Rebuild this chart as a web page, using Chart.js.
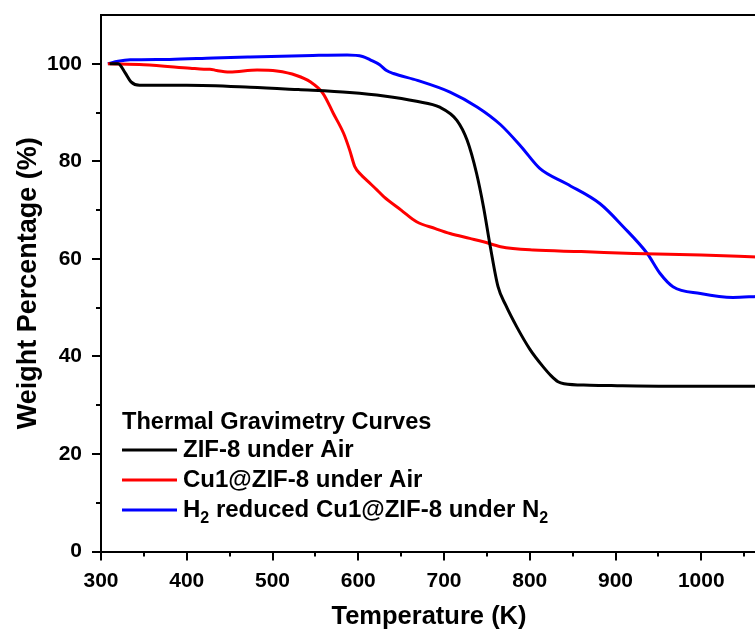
<!DOCTYPE html>
<html><head><meta charset="utf-8">
<script src="https://cdn.jsdelivr.net/npm/chart.js@4/dist/chart.umd.min.js"></script>
<style>html,body{margin:0;padding:0;background:#fff;overflow:hidden}#wrap{position:absolute;left:0;top:0;width:760px;height:633px}</style>
</head><body><div id="wrap"><canvas id="c" width="760" height="633"></canvas></div>
<script>
// ---- data ----
const zifTemp = [310,320,328,335,345,400,474,530,590,630,668,695,715,727,738,746,754,763,772,785,800,815,825,833,840,870,902,960,1020,1065];
const zifWeight = [100,100,98.2,96.3,95.6,95.6,95.2,94.7,94.1,93.4,92.3,91.1,88.4,84.3,77.5,70.7,62.5,54.3,50.5,46,41.5,38,36,34.8,34.4,34.1,34.0,33.9,33.9,33.9];
const cuTemp = [308,350,404,420,427,435,450,482,505,528,544,559,571,583,590,596,603,610,622,630,650,668,690,707,730,746,766,804,860,921,1000,1065];
const cuWeight = [100,99.8,99.1,98.9,98.9,98.6,98.3,98.7,98.5,97.6,96.3,93.9,89.8,85.7,82.3,78.9,77.3,76.1,74.1,72.7,70,67.6,66.2,65.2,64.2,63.5,62.5,61.8,61.5,61.1,60.8,60.4];
const h2Temp = [308,320,334,380,431,474,547,587,605,614,625,633,641,669,707,739,766,790,812,843,882,909,937,952,967,999,1037,1065];
const h2Weight = [100,100.5,100.8,100.9,101.2,101.4,101.7,101.8,101.5,100.8,99.8,98.6,98.0,96.6,94.2,91.1,87.5,83,78.5,75.4,71.3,66.6,61.1,57.0,54.3,52.9,52.1,52.3];
const xMajorTicks = [300,400,500,600,700,800,900,1000];
const xMinorTicks = [350,450,550,650,750,850,950,1050];
const yMajorTicks = [0,20,40,60,80,100];
const yMinorTicks = [10,30,50,70,90];
const seriesLabels = ['ZIF-8 under Air','Cu1@ZIF-8 under Air','H\u2082 reduced Cu1@ZIF-8 under N\u2082'];
const legendTitle = 'Thermal Gravimetry Curves';
// label pieces for drawing subscripts: [text, isSub]
const legendPieces = [
  [['ZIF-8 under Air',false]],
  [['Cu1@ZIF-8 under Air',false]],
  [['H',false],['2',true],[' reduced Cu1@ZIF-8 under N',false],['2',true]]
];
const colors = ['#000000','#ff0000','#0000ff'];

const FONT = '"Liberation Sans", Arial, Helvetica, sans-serif';
const pts = (xs, ys) => xs.map((x,i)=>({x, y: ys[i]}));

const frameTicks = {
  id:'frameTicks',
  afterDraw(chart){
    const {ctx, chartArea:a, scales:{x,y}} = chart;
    ctx.save();
    ctx.strokeStyle='#000'; ctx.lineWidth=2;
    ctx.beginPath();
    ctx.moveTo(a.left-1,a.top); ctx.lineTo(a.right,a.top); ctx.lineTo(a.right,a.bottom);
    ctx.stroke();
    ctx.lineWidth=2;
    ctx.beginPath();
    xMajorTicks.forEach(v=>{const p=Math.round(x.getPixelForValue(v)); ctx.moveTo(p,a.bottom); ctx.lineTo(p,a.bottom+9);});
    xMinorTicks.forEach(v=>{const p=Math.round(x.getPixelForValue(v)); ctx.moveTo(p,a.bottom); ctx.lineTo(p,a.bottom+5);});
    yMajorTicks.forEach(v=>{const p=Math.round(y.getPixelForValue(v)); ctx.moveTo(a.left,p); ctx.lineTo(a.left-9,p);});
    yMinorTicks.forEach(v=>{const p=Math.round(y.getPixelForValue(v)); ctx.moveTo(a.left,p); ctx.lineTo(a.left-5,p);});
    ctx.stroke();
    // legend
    ctx.fillStyle='#000';
    ctx.textBaseline='middle';
    ctx.font='bold 23.6px '+FONT;
    ctx.fillText(legendTitle, 122, 422);
    const rows=[450,480,510];
    legendPieces.forEach((pieces,i)=>{
      const yy=rows[i];
      ctx.strokeStyle=colors[i]; ctx.lineWidth=3;
      ctx.beginPath(); ctx.moveTo(122,yy); ctx.lineTo(177,yy); ctx.stroke();
      let xx=183;
      pieces.forEach(([t,sub])=>{
        ctx.font = sub ? 'bold 16px '+FONT : 'bold 24px '+FONT;
        ctx.fillText(t, xx, sub ? yy+9 : yy);
        xx += ctx.measureText(t).width;
      });
    });
    ctx.restore();
  }
};

new Chart(document.getElementById('c'), {
  type:'line',
  data:{datasets:[
    {label:seriesLabels[0], data:pts(zifTemp,zifWeight), borderColor:colors[0]},
    {label:seriesLabels[1], data:pts(cuTemp,cuWeight), borderColor:colors[1]},
    {label:seriesLabels[2], data:pts(h2Temp,h2Weight), borderColor:colors[2]}
  ]},
  options:{
    responsive:false, animation:false, devicePixelRatio:1,
    layout:{padding:{left:0,right:3,top:15,bottom:0}},
    elements:{point:{radius:0}, line:{borderWidth:3, cubicInterpolationMode:'monotone', fill:false}},
    plugins:{legend:{display:false}, tooltip:{enabled:false}},
    scales:{
      x:{type:'linear', min:300, max:1065,
        grid:{display:false}, border:{display:true,color:'#000',width:2},
        ticks:{stepSize:50, autoSkip:false, maxRotation:0, padding:9, color:'#000',
          font:{family:FONT, size:21, weight:'bold'},
          callback:v=> xMajorTicks.includes(v) ? String(v) : ''},
        title:{display:true, text:'Temperature (K)', color:'#000', font:{family:FONT,size:25.5,weight:'bold'}, padding:{top:0,bottom:1}},
        afterFit:s=>{s.height=81.5; s.paddingLeft=0; s.paddingRight=0;}
      },
      y:{type:'linear', min:0, max:110,
        grid:{display:false}, border:{display:true,color:'#000',width:2},
        ticks:{stepSize:10, autoSkip:false, padding:11, color:'#000',
          font:{family:FONT, size:21, weight:'bold'},
          callback:v=> yMajorTicks.includes(v) ? String(v) : ''},
        title:{display:true, text:'Weight Percentage (%)', color:'#000', font:{family:FONT,size:27,weight:'bold'}, padding:{top:12,bottom:0}},
        afterFit:s=>{s.width=101; s.paddingTop=0; s.paddingBottom=0;}
      }
    }
  },
  plugins:[frameTicks]
});
</script></body></html>
